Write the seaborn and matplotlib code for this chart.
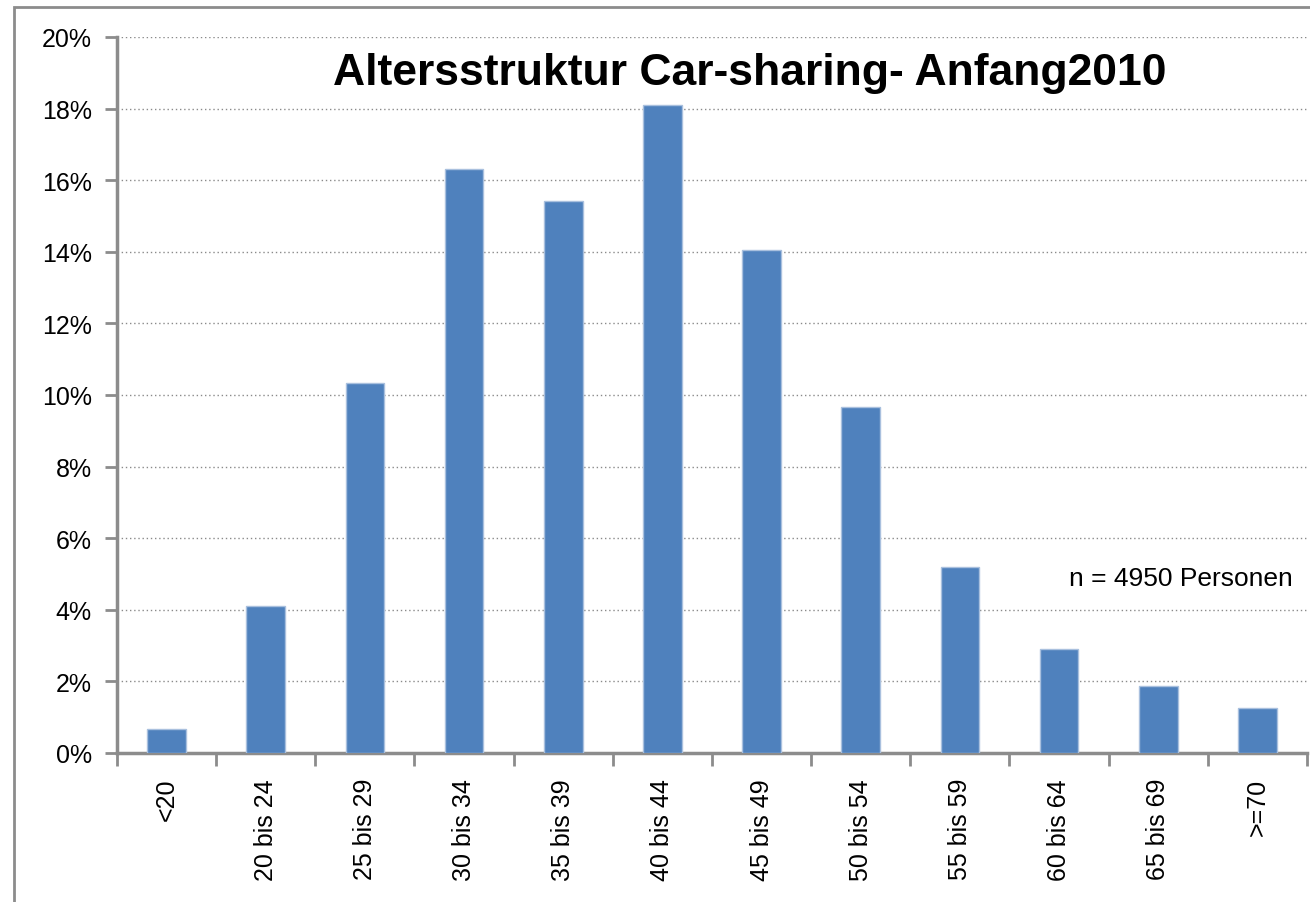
import matplotlib
matplotlib.use("Agg")
import matplotlib.pyplot as plt
import matplotlib.patches as mpatches
import seaborn as sns
import pandas as pd

# Data
age_groups = ["<20", "20 bis 24", "25 bis 29", "30 bis 34", "35 bis 39", "40 bis 44",
              "45 bis 49", "50 bis 54", "55 bis 59", "60 bis 64", "65 bis 69", ">=70"]
shares = [0.67, 4.1, 10.33, 16.31, 15.42, 18.1, 14.05, 9.66, 5.2, 2.9, 1.87, 1.26]
y_ticks = [0, 2, 4, 6, 8, 10, 12, 14, 16, 18, 20]

title_text = "Altersstruktur Car-sharing- Anfang2010"
note_text = "n = 4950 Personen"

df = pd.DataFrame({"Alter": age_groups, "Anteil": shares})

sns.set_style("white")
plt.rcParams["font.family"] = ["Liberation Sans", "DejaVu Sans"]
plt.rcParams["text.color"] = "black"
plt.rcParams["xtick.color"] = "black"
plt.rcParams["ytick.color"] = "black"

fig = plt.figure(figsize=(13.1, 9.03), dpi=100)
ax = fig.add_axes([117 / 1310, 1 - 754 / 903, 1190 / 1310, (754 - 38) / 903])

# outer chart frame
frame = mpatches.Rectangle((14 / 1310, -0.05), 1.2, 1 - 8 / 903 + 0.05,
                           transform=fig.transFigure, fill=False,
                           edgecolor="#8c8c8c", linewidth=2, zorder=0)
fig.patches.append(frame)

sns.barplot(data=df, x="Alter", y="Anteil", color="#4F81BD", saturation=1,
            width=0.39, edgecolor="#a9c0de", linewidth=1, ax=ax, zorder=3)

ax.set_xlim(-0.5, len(age_groups) - 0.5)
ax.set_ylim(0, 20)
ax.set_yticks(y_ticks)
ax.set_yticklabels([f"{v}%" for v in y_ticks], fontsize=18)
ax.yaxis.grid(True, linestyle=(0, (1, 2)), color="#8a8a8a", linewidth=1, zorder=0)
ax.set_axisbelow(True)

ax.set_xticks(range(len(age_groups)))
ax.set_xticklabels(age_groups, rotation=90, fontsize=18)
ax.tick_params(axis="x", which="major", length=0, pad=18, bottom=True)
ax.set_xticks([i - 0.5 for i in range(len(age_groups) + 1)], minor=True)
ax.tick_params(axis="x", which="minor", length=9, width=2, color="#8c8c8c",
               direction="out", bottom=True)
ax.tick_params(axis="y", length=9, width=2, color="#8c8c8c", labelcolor="black",
               direction="out", pad=9, left=True)

for side in ["top", "right"]:
    ax.spines[side].set_visible(False)
for side in ["left", "bottom"]:
    ax.spines[side].set_color("#8c8c8c")
    ax.spines[side].set_linewidth(2.5)

ax.set_xlabel("")
ax.set_ylabel("")

ax.text(0.532, 0.95, title_text, transform=ax.transAxes, ha="center", va="center",
        fontsize=32, fontweight="bold", color="black")
ax.text(0.988, 0.245, note_text, transform=ax.transAxes, ha="right", va="center",
        fontsize=19, color="black")

fig.savefig("out.png", dpi=100)
